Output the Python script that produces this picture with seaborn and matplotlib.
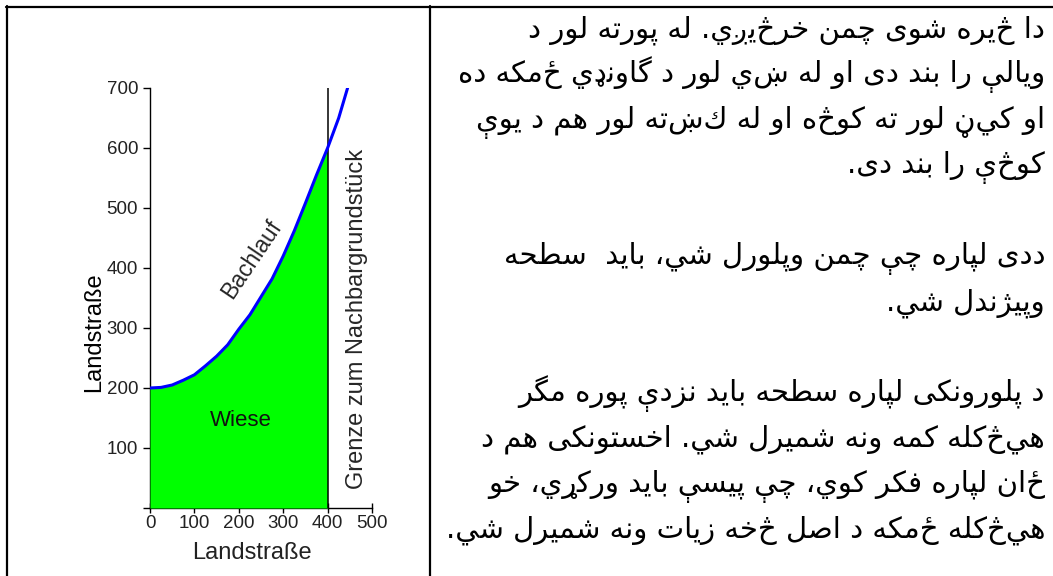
import numpy as np
import matplotlib
matplotlib.use("Agg")
import matplotlib.pyplot as plt
import seaborn as sns
from matplotlib.lines import Line2D

# Daten: Bachlauf, Grenze, Achsen
bach_x = [0, 25, 50, 75, 100, 125, 150, 175, 200, 225, 250, 275, 300, 325, 350, 375, 400, 425, 445]
bach_y = [200, 201, 205, 213, 222, 237, 253, 272, 298, 322, 352, 382, 420, 462, 508, 555, 600, 650, 700]
grenze_x = 400
x_ticks = [0, 100, 200, 300, 400, 500]
y_ticks = [0, 100, 200, 300, 400, 500, 600, 700]
y_tick_labels = ["", "100", "200", "300", "400", "500", "600", "700"]
axis_label = "Landstraße"
label_bach = "Bachlauf"
label_wiese = "Wiese"
label_grenze = "Grenze zum Nachbargrundstück"

# Pashto text (rechte Zelle), eine Liste pro Absatz
para_1 = [
    "دا څيره شوى چمن خرڅيږي. له پورته لور د",
    "ويالې را بند دى او له ښي لور د گاونډي ځمكه ده",
    "او كيڼ لور ته كوڅه او له كښته لور هم د يوې",
    "كوڅې را بند دى.",
]
para_2 = [
    "ددى لپاره چې چمن وپلورل شي، بايد  سطحه",
    "وپيژندل شي.",
]
para_3 = [
    "د پلورونكى لپاره سطحه بايد نزدې پوره مگر",
    "هيڅكله كمه ونه شميرل شي. اخستونكى هم د",
    "ځان لپاره فكر كوي، چې پيسې بايد وركړي، خو",
    "هيڅكله ځمكه د اصل څخه زيات ونه شميرل شي.",
]

# matplotlib kann kein Arabisch verbinden -> Praesentationsformen + Umdrehen
# (isolierte Form, Verbindungsart: D = beidseitig, R = nur nach rechts)
FORMS = {
    'ا': (0xFE8D, 'R'), 'ب': (0xFE8F, 'D'), 'ة': (0xFE93, 'R'), 'ت': (0xFE95, 'D'),
    'ث': (0xFE99, 'D'), 'ج': (0xFE9D, 'D'), 'ح': (0xFEA1, 'D'), 'خ': (0xFEA5, 'D'),
    'د': (0xFEA9, 'R'), 'ذ': (0xFEAB, 'R'), 'ر': (0xFEAD, 'R'), 'ز': (0xFEAF, 'R'),
    'س': (0xFEB1, 'D'), 'ش': (0xFEB5, 'D'), 'ص': (0xFEB9, 'D'), 'ض': (0xFEBD, 'D'),
    'ط': (0xFEC1, 'D'), 'ظ': (0xFEC5, 'D'), 'ع': (0xFEC9, 'D'), 'غ': (0xFECD, 'D'),
    'ف': (0xFED1, 'D'), 'ق': (0xFED5, 'D'), 'ك': (0xFED9, 'D'), 'ل': (0xFEDD, 'D'),
    'م': (0xFEE1, 'D'), 'ن': (0xFEE5, 'D'), 'ه': (0xFEE9, 'D'), 'و': (0xFEED, 'R'),
    'ى': (0xFEEF, 'R'), 'ي': (0xFEF1, 'D'), 'پ': (0xFB56, 'D'), 'چ': (0xFB7A, 'D'),
    'ژ': (0xFB8A, 'R'), 'ک': (0xFB8E, 'D'), 'گ': (0xFB92, 'D'), 'ی': (0xFBFC, 'D'),
    'ې': (0xFBE4, 'D'),
    'ډ': (None, 'R'), 'ړ': (None, 'R'), 'ږ': (None, 'R'), 'ۍ': (None, 'R'),
}


def shape_rtl(line):
    out = []
    for i, ch in enumerate(line):
        if ch not in FORMS:
            out.append(ch)
            continue
        base, kind = FORMS[ch]
        prev = line[i - 1] if i > 0 else " "
        nxt = line[i + 1] if i + 1 < len(line) else " "
        join_prev = prev in FORMS and FORMS[prev][1] == "D"
        join_next = kind == "D" and nxt in FORMS
        if base is None:
            out.append(ch)
        elif kind == "R":
            out.append(chr(base + (1 if join_prev else 0)))
        else:
            out.append(chr(base + [[0, 2], [1, 3]][join_prev][join_next]))
    return "".join(out)[::-1]


sns.set_style("ticks")
plt.rcParams["font.family"] = ["Liberation Sans", "DejaVu Sans"]

W, H = 1053, 576
fig = plt.figure(figsize=(W / 100, H / 100), dpi=100)


def fx(px):
    return px / W


def fy(py):
    return 1 - py / H


# Tabellenrahmen
for xs, ys in [((6, W), (7, 7)), ((7, 7), (6, H)), ((430, 430), (6, H))]:
    fig.add_artist(Line2D([fx(x) for x in xs], [fy(y) for y in ys], color="black", lw=1.6))

# Diagramm
ax = fig.add_axes([fx(150), fy(508), (372 - 150) / W, (508 - 88) / H])
bx = np.array(bach_x)
by = np.array(bach_y)
inside = bx <= grenze_x
ax.fill_between(bx[inside], 0, by[inside], color="#00ff00", lw=0, zorder=3)
ax.axvline(grenze_x, color="black", lw=1.1, zorder=4)
sns.lineplot(x=bach_x, y=bach_y, color="#0000ff", lw=2.2, ax=ax, zorder=5)

ax.set_xlim(0, 500)
ax.set_ylim(0, 700)
ax.set_xticks(x_ticks)
ax.set_yticks(y_ticks)
ax.set_yticklabels(y_tick_labels)
sns.despine(ax=ax)
for side in ["left", "bottom"]:
    ax.spines[side].set_linewidth(1.0)
    ax.spines[side].set_color("black")
ax.tick_params(axis="y", direction="out", length=5, width=1, pad=3.5, labelsize=13.5, colors="black", labelcolor="#222222")
ax.tick_params(axis="x", direction="inout", length=7, width=1, pad=1.5, labelsize=13.5, colors="black", labelcolor="#222222")

ax.set_xlabel(axis_label, fontsize=17, color="#222222")
ax.set_ylabel(axis_label, fontsize=17, color="black")
ax.xaxis.set_label_coords(0.459, -0.081)
ax.yaxis.set_label_coords(-0.203, 0.419)

ax.text(229, 415, label_bach, rotation=56, rotation_mode="anchor", ha="center", va="center", fontsize=16.5, zorder=6)
ax.text(204, 145, label_wiese, ha="center", va="center", fontsize=16, color="#111111", zorder=6)
ax.text(467, 315, label_grenze, rotation=90, ha="center", va="center", fontsize=17, clip_on=False)

# rechte Zelle: Pashto Absaetze
baselines = [[37, 82, 128, 173], [264, 310], [401, 446, 492, 537]]
for para, ys in zip([para_1, para_2, para_3], baselines):
    for line, y in zip(para, ys):
        fig.text(fx(1045), fy(y), shape_rtl(line), ha="right", va="baseline",
                 fontsize=21, family=["DejaVu Sans"], color="black")

fig.savefig("out.png", dpi=100)
